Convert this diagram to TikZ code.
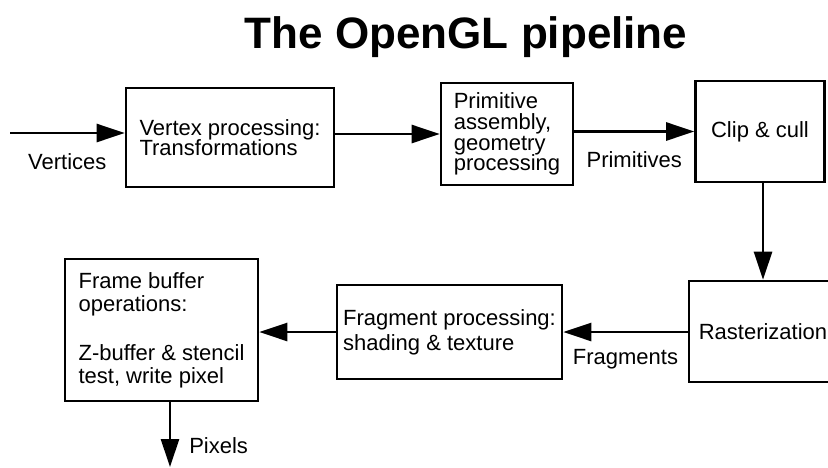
\documentclass[tikz,border=0pt]{standalone}
\usepackage{fontspec}
\setmainfont{Liberation Sans}
\usetikzlibrary{arrows.meta,positioning,calc}
\tikzset{
  flowarrow/.style={-{Triangle[length=14pt,width=9pt]}, line width=1.3pt},
  flowlabel/.style={font=\fontsize{11}{13}\selectfont, inner sep=1pt}
}

\begin{document}
\begin{tikzpicture}[
  x=0.5pt, y=-0.5pt,
  stage/.style={draw, line width=1.3pt, align=left, inner sep=0pt, font=\fontsize{11}{12}\selectfont,
    execute at begin node={\lineskiplimit=-10pt}},
  heading/.style={font=\fontsize{22}{26}\selectfont\bfseries, anchor=base}
]
\useasboundingbox (0,0) rectangle (828,467);
\node[heading] (title) at (466,48) {The OpenGL pipeline};

\node[stage, minimum width=104pt, minimum height=49.5pt, font=\fontsize{11}{10.2}\selectfont] (vertex) at (230,137.5) {Vertex processing:\\Transformations};
\node[stage, minimum width=66pt, minimum height=51pt, font=\fontsize{11}{10.4}\selectfont] (prim) at (507,134) {Primitive\\assembly,\\geometry\\processing};
\node[stage, minimum width=64.5pt, minimum height=50.5pt, align=center] (clip) at (760,131.5) {Clip \& cull};
\node[stage, minimum width=74pt, minimum height=50.5pt, align=center] (raster) at (763,331.5) {Rasterization};
\node[stage, minimum width=112.5pt, minimum height=47pt, font=\fontsize{11}{12.5}\selectfont] (frag) at (449.5,332) {Fragment processing:\\shading \& texture};
\node[stage, minimum width=96.5pt, minimum height=71pt, font=\fontsize{11}{11.5}\selectfont] (frame) at (161.5,330) {Frame buffer\\operations:\\[13pt]Z-buffer \& stencil\\test, write pixel};

\coordinate (vin) at (10,133);
\coordinate (pout) at (170,467);

\draw[flowarrow] (vin) -- node[flowlabel, below=8.5pt] {Vertices} (vin -| vertex.west);
\draw[flowarrow] (vertex.east |- prim) -- (prim.west);
\draw[flowarrow] (prim.east |- clip) -- node[flowlabel, below=8.5pt] {Primitives} (clip.west);
\draw[flowarrow] (clip.south -| raster) -- (raster.north);
\draw[flowarrow] (raster.west |- frag) -- node[flowlabel, below=7pt] {Fragments} (frag.east);
\draw[flowarrow] (frag.west) -- (frag.west -| frame.east);
\draw[flowarrow] (frame.south -| pout) -- node[flowlabel, right=8pt, pos=0.67] {Pixels} (pout);
\end{tikzpicture}
\end{document}
